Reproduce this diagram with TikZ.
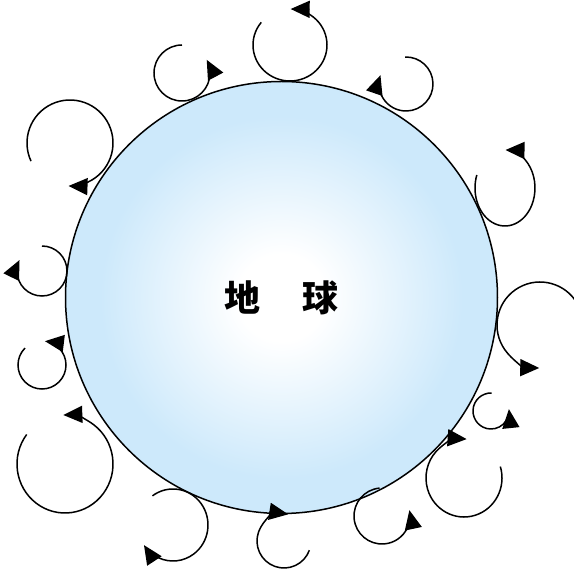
\documentclass[tikz,border=0pt]{standalone}
\usepackage{fontspec}
\usepackage{tikz}
\usetikzlibrary{arrows.meta}
\newfontfamily\cjk{Noto Sans CJK SC}
\definecolor{Ink}{HTML}{000000}
\definecolor{Rim}{HTML}{CDE9FB}
\pgfdeclareradialshading{earthglow}{\pgfpoint{0bp}{0bp}}{color(0bp)=(white); color(5bp)=(white); color(21bp)=(Rim); color(50bp)=(Rim)}
\tikzset{
  swirl/.style={draw=Ink, line width=1.5pt, -{Triangle[length=19pt,width=17pt]}},
  earth/.style={circle, draw=Ink, line width=1.5pt, minimum size=432pt, inner sep=0pt, shading=earthglow,
    font=\cjk\bfseries\fontsize{36}{42}\selectfont},
}

\begin{document}
\begin{tikzpicture}[x=1pt,y=1pt]
  \useasboundingbox (0,0) rectangle (574,571);
  \node[earth] (earth) at (281.5,273.5) {地\hspace{43pt}球};
  % small whirls round the globe
  \foreach \cx/\cy/\rx/\ry/\a/\b in {
    182/498/28/28/90/388,
    290/526/37/36/141/449,
    406/487/27/27/92/-199,
    505/383/30/38/160/449,
    540/246/43/43/35/269,
    491/160/18/18/88/366,
    464/93/38/39/17/-274,
    382/55/28/28/95/372,
    284/30/27/27/-20/-279,
    173/46/35/36/126/-146,
    65/107/48/49/143/452,
    42/206/24/24/135/443,
    42/300/25/25/90/-206,
    70/428/43/43/205/-92} {
    \draw[swirl] (\cx,\cy) ++(\a:\rx pt and \ry pt)
      arc[start angle=\a, end angle=\b, x radius=\rx, y radius=\ry];
  }
\end{tikzpicture}
\end{document}
